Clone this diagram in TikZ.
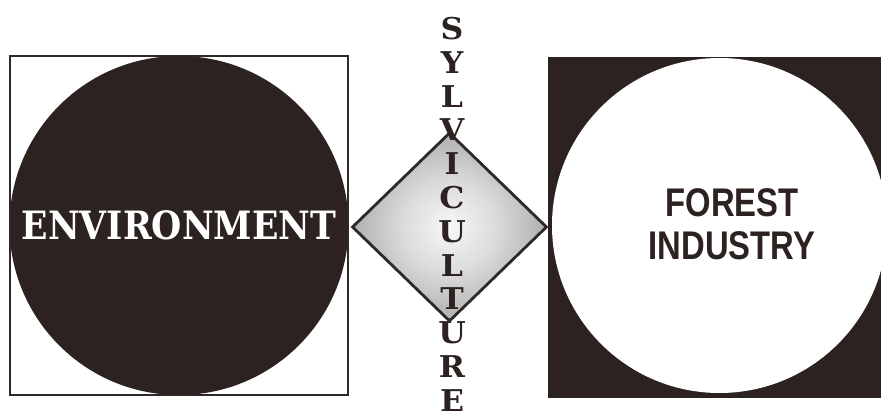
\documentclass[tikz,border=0pt]{standalone}
\usepackage{fontspec}
\usepackage{tikz}
\usetikzlibrary{shapes.geometric}
\newfontfamily\letrafont[FakeStretch=1.05]{DejaVu Serif}
\newfontfamily\ambfont[FakeStretch=0.89]{DejaVu Serif}
\newfontfamily\indfont[FakeStretch=0.82]{Liberation Sans}
\definecolor{oscuro}{HTML}{2C2321}
\definecolor{trazo}{HTML}{302826}
\pgfdeclareradialshading{trama}{\pgfpoint{0bp}{0bp}}{rgb(0bp)=(0.97,0.97,0.97); rgb(12bp)=(0.86,0.86,0.86); rgb(30bp)=(0.62,0.62,0.62); rgb(50bp)=(0.5,0.5,0.5)}

\begin{document}
\begin{tikzpicture}[
  x=1pt, y=-1pt,
  disco/.style={circle, minimum size=339pt, inner sep=0pt},
  rombo/.style={diamond, draw=trazo, line width=2.8pt, minimum width=195pt, minimum height=189pt, inner sep=0pt, shade, shading=trama},
  letra/.style={inner sep=0pt, text=oscuro, font=\fontsize{30}{30}\letrafont\bfseries}]
  \useasboundingbox (0,0) rectangle (881,419);
  % environment side
  \node[disco, fill=oscuro, text=white, font=\fontsize{39}{40}\ambfont\bfseries] (env) at (179,225.5) {ENVIRONMENT};
  \draw[trazo, line width=2.6pt] (10,56) rectangle (348,395);
  % industry side
  \fill[oscuro] (548,57) rectangle (890,398);
  \node[disco, minimum size=335pt, fill=white] (ind) at (719.5,225.5) {};
  \node[align=center, text=oscuro, font=\fontsize{40}{43}\indfont\bfseries] (indtxt) at (732,224) {FOREST\\INDUSTRY};
  % sylviculture
  \node[rombo] (silv) at (449.5,227) {};
  \foreach \ch [count=\i] in {S,Y,L,V,I,C,U,L,T,U,R,E}
    \node[letra] (l\i) at (452,{28.5+33.8*(\i-1)}) {\ch};
\end{tikzpicture}
\end{document}
